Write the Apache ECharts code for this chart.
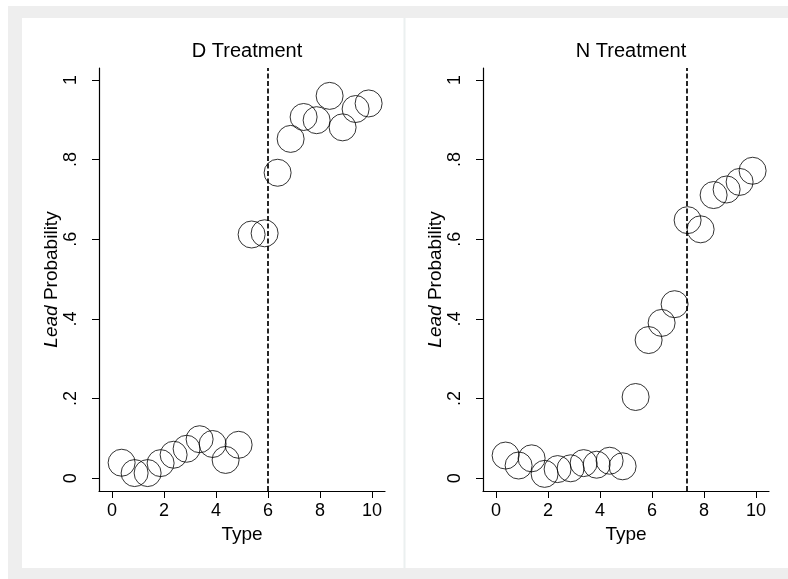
<!DOCTYPE html>
<html>
<head>
<meta charset="utf-8">
<script src="https://cdn.jsdelivr.net/npm/echarts@6/dist/echarts.min.js"></script>
<style>
  html, body { margin: 0; padding: 0; background: #fff; }
  #main { width: 788px; height: 579px; }
</style>
</head>
<body>
<div id="main"></div>
<script>
// type positions (same for both panels)
var typeX = [0.37, 0.87, 1.37, 1.87, 2.37, 2.87, 3.37, 3.87, 4.37, 4.87,
             5.37, 5.87, 6.37, 6.87, 7.37, 7.87, 8.37, 8.87, 9.37, 9.87];
// lead probability, D treatment
var dLead = [0.039, 0.013, 0.013, 0.038, 0.059, 0.074, 0.098, 0.086, 0.046, 0.084,
             0.612, 0.615, 0.767, 0.852, 0.907, 0.899, 0.960, 0.881, 0.927, 0.941];
// lead probability, N treatment
var nLead = [0.057, 0.032, 0.050, 0.011, 0.023, 0.025, 0.038, 0.034, 0.044, 0.030,
             0.204, 0.347, 0.390, 0.437, 0.648, 0.625, 0.711, 0.725, 0.744, 0.772];
var dCut = 6;
var nCut = 7.32;
var panelTitles = ['D Treatment', 'N Treatment'];
var xTicks = [0, 2, 4, 6, 8, 10];
var yTicks = [0, 0.2, 0.4, 0.6, 0.8, 1];
var yTickLabels = ['0', '.2', '.4', '.6', '.8', '1'];

var FONT = 'Liberation Sans, Arial, sans-serif';
var myChart = echarts.init(document.getElementById('main'));

function pts(xs, ys) {
    var out = [];
    for (var i = 0; i < xs.length; i++) out.push([xs[i], ys[i]]);
    return out;
}

function xAxisCfg(idx) {
    return {
        gridIndex: idx, type: 'value', min: -0.5, max: 10.5,
        name: 'Type', nameLocation: 'middle', nameGap: 34,
        nameTextStyle: { fontFamily: FONT, fontSize: 19, color: '#000' },
        axisLine: { show: true, onZero: false, lineStyle: { color: '#000', width: 1.2 } },
        axisTick: { show: true, length: 7, customValues: xTicks, lineStyle: { color: '#000' } },
        axisLabel: { customValues: xTicks, margin: 11, fontFamily: FONT, fontSize: 18, color: '#000' },
        splitLine: { show: false }
    };
}

function yAxisCfg(idx) {
    return {
        gridIndex: idx, type: 'value', min: -0.032, max: 1.03,
        name: '{i|Lead} Probability', nameLocation: 'middle', nameGap: 37,
        nameTextStyle: {
            fontFamily: FONT, fontSize: 19, color: '#000',
            rich: { i: { fontStyle: 'italic', fontFamily: FONT, fontSize: 19, color: '#000' } }
        },
        axisLine: { show: true, onZero: false, lineStyle: { color: '#000', width: 1.2 } },
        axisTick: { show: true, length: 7, customValues: yTicks, lineStyle: { color: '#000' } },
        axisLabel: {
            customValues: yTicks, rotate: 90, margin: 19,
            fontFamily: FONT, fontSize: 18, color: '#000',
            formatter: function (v) {
                var k = yTicks.indexOf(Math.round(v * 10) / 10);
                return k >= 0 ? yTickLabels[k] : '';
            }
        },
        splitLine: { show: false }
    };
}

function seriesCfg(idx, ys, cut) {
    return {
        type: 'scatter', xAxisIndex: idx, yAxisIndex: idx,
        data: pts(typeX, ys),
        symbol: 'circle', symbolSize: 27,
        itemStyle: { color: 'rgba(0,0,0,0)', borderColor: '#000', borderWidth: 1 },
        emphasis: { disabled: true },
        markLine: {
            silent: true, symbol: 'none', label: { show: false },
            lineStyle: { color: '#000', type: [5, 2.5], width: 1.7 },
            data: [{ xAxis: cut }]
        }
    };
}

myChart.setOption({
    animation: false,
    backgroundColor: '#fff',
    graphic: [
        { type: 'rect', z: -100, shape: { x: 8, y: 6, width: 780, height: 573 }, style: { fill: '#eeeeee' } },
        { type: 'rect', z: -99, shape: { x: 22, y: 18, width: 766, height: 550 }, style: { fill: '#fff' } },
        { type: 'rect', z: -98, shape: { x: 403.5, y: 18, width: 2, height: 550 }, style: { fill: '#ebf0f0' } }
    ],
    title: [
        { text: panelTitles[0], left: 242, top: 36, textAlign: 'center',
          textStyle: { fontFamily: FONT, fontSize: 20, fontWeight: 'normal', color: '#000' } },
        { text: panelTitles[1], left: 626, top: 36, textAlign: 'center',
          textStyle: { fontFamily: FONT, fontSize: 20, fontWeight: 'normal', color: '#000' } }
    ],
    grid: [
        { left: 99, top: 68, width: 286, height: 423 },
        { left: 483, top: 68, width: 286, height: 423 }
    ],
    xAxis: [xAxisCfg(0), xAxisCfg(1)],
    yAxis: [yAxisCfg(0), yAxisCfg(1)],
    series: [seriesCfg(0, dLead, dCut), seriesCfg(1, nLead, nCut)]
});
window.onresize = myChart.resize;
</script>
</body>
</html>
